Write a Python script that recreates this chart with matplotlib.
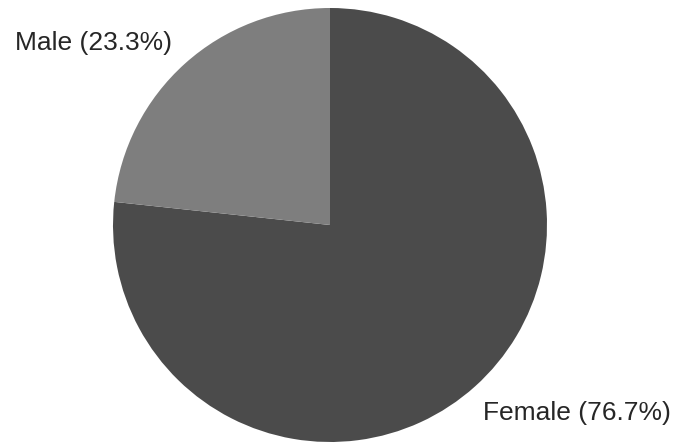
import matplotlib
matplotlib.use("Agg")
import matplotlib.pyplot as plt

categories = ["Female", "Male"]
shares = [76.7, 23.3]
colors = ["#4b4b4b", "#7e7e7e"]

fig = plt.figure(figsize=(6.77, 4.45), dpi=100)
ax = fig.add_axes([0, 0, 1, 1])
ax.pie(shares, colors=colors, startangle=90, counterclock=False,
       radius=1.0, wedgeprops=dict(linewidth=0))
R = 217.0
cx, cy = 330.0, 225.0
ax.set_xlim(-cx / R, (677 - cx) / R)
ax.set_ylim(-(445 - cy) / R, cy / R)
ax.set_aspect("equal")
ax.axis("off")

labels = [f"{c} ({v}%)" for c, v in zip(categories, shares)]
font = dict(family=["Liberation Sans", "DejaVu Sans"], fontsize=19, color="#262626")
ax.text((483 - cx) / R, (cy - 413) / R, labels[0], ha="left", va="center", **font)
ax.text((15 - cx) / R, (cy - 43) / R, labels[1], ha="left", va="center", **font)

fig.savefig("out.png", dpi=100)
